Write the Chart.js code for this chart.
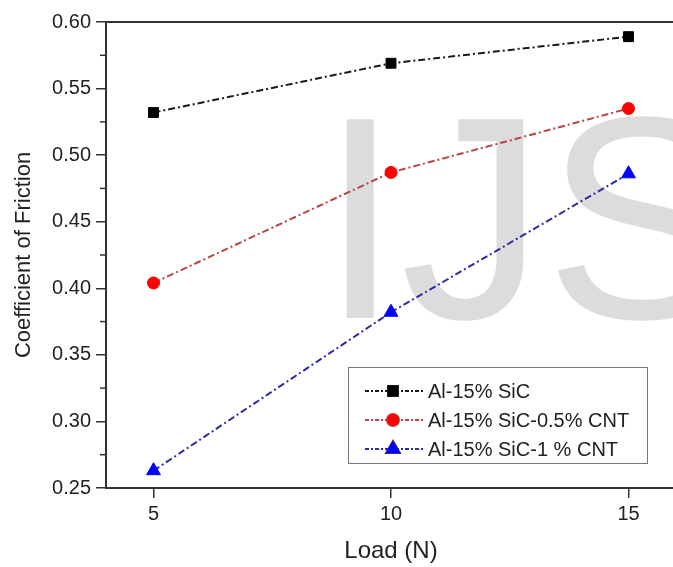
<!DOCTYPE html>
<html>
<head>
<meta charset="utf-8">
<script src="https://cdn.jsdelivr.net/npm/chart.js@4"></script>
<style>
  html, body { margin: 0; padding: 0; overflow: hidden; background: #fff; }
  #wrap { width: 690px; height: 567px; }
</style>
</head>
<body>
<div id="wrap"><canvas id="cof"></canvas></div>
<script>
// Data
const loads = [5, 10, 15];
const sicOnly = [0.532, 0.569, 0.589];
const sicCnt05 = [0.404, 0.487, 0.535];
const sicCnt1 = [0.263, 0.382, 0.486];
const seriesNames = ['Al-15% SiC', 'Al-15% SiC-0.5% CNT', 'Al-15% SiC-1 % CNT'];
const yTicks = [0.25, 0.30, 0.35, 0.40, 0.45, 0.50, 0.55, 0.60];

const FONT = '"Liberation Sans", Arial, sans-serif';
const dashDot = [7, 3, 2, 3];

function toPoints(vals) {
    return loads.map((x, i) => ({ x: x, y: vals[i] }));
}

// watermark, frame top line, minor ticks, legend
const extras = {
    id: 'extras',
    beforeDatasetsDraw(chart) {
        const ctx = chart.ctx;
        ctx.save();
        ctx.fillStyle = '#dcdcdc';
        ctx.font = '289px ' + FONT;
        ctx.textBaseline = 'alphabetic';
        ctx.fillText('IJS', 320, 318);
        ctx.restore();
    },
    afterDraw(chart) {
        const ctx = chart.ctx;
        const a = chart.chartArea;
        const y = chart.scales.y;
        ctx.save();
        // top frame line
        ctx.strokeStyle = '#333';
        ctx.lineWidth = 2;
        ctx.beginPath();
        ctx.moveTo(a.left, a.top);
        ctx.lineTo(a.right, a.top);
        ctx.stroke();
        // minor ticks on y
        ctx.lineWidth = 1.5;
        for (let i = 0; i < yTicks.length - 1; i++) {
            const py = y.getPixelForValue((yTicks[i] + yTicks[i + 1]) / 2);
            ctx.beginPath();
            ctx.moveTo(a.left - 6, py);
            ctx.lineTo(a.left, py);
            ctx.stroke();
        }
        // legend
        const bx = 348, by = 367, bw = 299, bh = 96;
        ctx.fillStyle = '#fff';
        ctx.fillRect(bx, by, bw, bh);
        ctx.strokeStyle = '#777';
        ctx.lineWidth = 1;
        ctx.strokeRect(bx + 0.5, by + 0.5, bw, bh);
        chart.data.datasets.forEach((ds, i) => {
            const ly = 391 + i * 29;
            ctx.strokeStyle = ds.borderColor;
            ctx.lineWidth = 2;
            ctx.setLineDash([4, 2, 2, 2]);
            ctx.beginPath();
            ctx.moveTo(365, ly);
            ctx.lineTo(425, ly);
            ctx.stroke();
            ctx.setLineDash([]);
            Chart.helpers.drawPoint(ctx, {
                pointStyle: ds.pointStyle,
                radius: ds.pointRadius,
                borderWidth: 1
            }, 393, ly);
            ctx.fillStyle = ds.pointBackgroundColor;
            ctx.strokeStyle = ds.pointBorderColor;
            ctx.fill();
            ctx.fillStyle = '#222';
            ctx.font = '20px ' + FONT;
            ctx.textBaseline = 'middle';
            ctx.fillText(ds.label, 428, ly + 1);
        });
        ctx.restore();
    }
};

const mk = (label, vals, line, mark, style, r) => ({
    label: label,
    data: toPoints(vals),
    borderColor: line,
    borderWidth: 2,
    borderDash: dashDot,
    pointStyle: style,
    pointRadius: r,
    pointHoverRadius: r,
    pointBackgroundColor: mark,
    pointBorderColor: mark,
    pointBorderWidth: 1,
    tension: 0,
    fill: false
});

new Chart(document.getElementById('cof'), {
    type: 'line',
    data: {
        datasets: [
            mk(seriesNames[0], sicOnly, '#1a1a1a', '#000000', 'rect', 7),
            mk(seriesNames[1], sicCnt05, '#b84444', '#ff0000', 'circle', 6),
            mk(seriesNames[2], sicCnt1, '#2c2ca0', '#0000ff', 'triangle', 8)
        ]
    },
    options: {
        responsive: true,
        maintainAspectRatio: false,
        animation: false,
        layout: { padding: { left: 0, right: 14, top: 22, bottom: 0 } },
        plugins: { legend: { display: false }, tooltip: { enabled: false } },
        scales: {
            x: {
                type: 'linear',
                min: 4,
                max: 16,
                afterBuildTicks: s => { s.ticks = loads.map(v => ({ value: v })); },
                afterFit: s => { s.height = 79; },
                grid: { drawOnChartArea: false, tickLength: 10, color: '#333', lineWidth: 1.5 },
                border: { color: '#333', width: 2 },
                ticks: { color: '#222', font: { family: FONT, size: 20 }, padding: 4, maxRotation: 0 },
                title: { display: true, text: 'Load (N)', color: '#222', font: { family: FONT, size: 24 }, padding: { top: 0, bottom: 1 } }
            },
            y: {
                min: 0.25,
                max: 0.60,
                afterBuildTicks: s => { s.ticks = yTicks.map(v => ({ value: v })); },
                afterFit: s => { s.width = 106; },
                grid: { drawOnChartArea: false, tickLength: 10, color: '#333', lineWidth: 1.5 },
                border: { color: '#333', width: 2 },
                ticks: { color: '#222', font: { family: FONT, size: 20 }, padding: 5, callback: v => v.toFixed(2) },
                title: { display: true, text: 'Coefficient of Friction', color: '#222', font: { family: FONT, size: 22 }, padding: { top: 11, bottom: 0 } }
            }
        }
    },
    plugins: [extras]
});
</script>
</body>
</html>
